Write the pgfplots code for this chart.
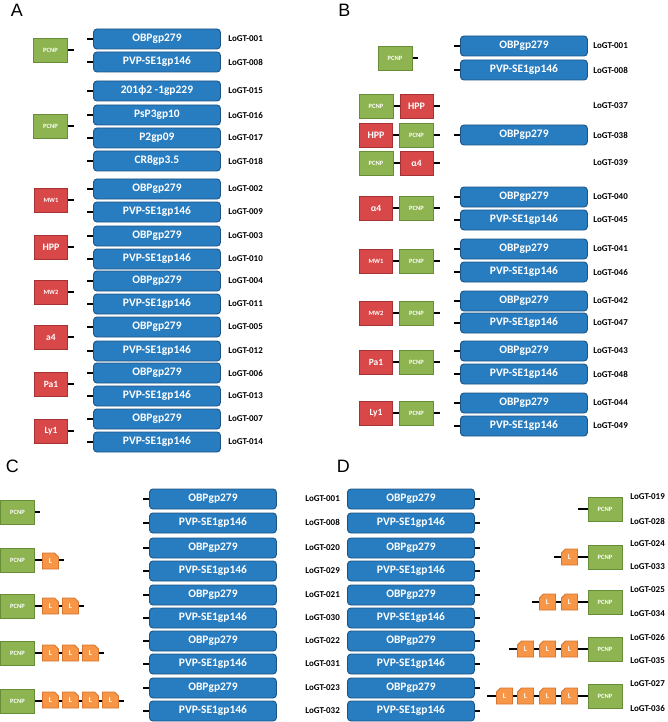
\documentclass[border=0pt]{standalone}
\usepackage{pgfplots}
\pgfplotsset{compat=1.18}
\usetikzlibrary{shapes.misc}
\usepackage{fontspec}
\setmainfont{Carlito}
\newfontfamily\panelfont{Liberation Sans}

\definecolor{boxblue}{RGB}{40,125,192}
\definecolor{boxblueedge}{RGB}{28,84,134}
\definecolor{pcnpgreen}{RGB}{141,180,80}
\definecolor{pcnpedge}{RGB}{104,140,55}
\definecolor{tagred}{RGB}{216,72,72}
\definecolor{tagrededge}{RGB}{165,50,50}
\definecolor{lorange}{RGB}{246,150,70}
\definecolor{lorangeedge}{RGB}{214,118,48}

\pgfplotsset{
  labelled/.style={only marks, mark=text, text mark={},
    point meta=explicit symbolic, nodes near coords,
    every node near coord/.append style={anchor=center, inner sep=0pt, outer sep=0pt, #1}},
  bluebox/.style={labelled={rectangle, rounded corners=3.5bp, fill=boxblue, draw=boxblueedge,
    line width=0.9bp, minimum width=127bp, minimum height=20bp, text=white,
    text height=8bp, text depth=2.5bp, font=\bfseries\fontsize{11.5}{12}\selectfont}},
  greenbox/.style={labelled={rectangle, fill=pcnpgreen, draw=pcnpedge, line width=0.9bp,
    minimum width=34bp, minimum height=24bp, text=white, font=\bfseries\fontsize{6.5}{7}\selectfont}},
  redbox/.style={labelled={rectangle, fill=tagred, draw=tagrededge, line width=0.9bp,
    minimum width=33bp, minimum height=24bp, text=white, font=\bfseries\fontsize{#1}{10}\selectfont}},
  ltag/.style={labelled={chamfered rectangle, chamfered rectangle corners=#1,
    chamfered rectangle xsep=4bp, chamfered rectangle ysep=4bp,
    fill=lorange, draw=lorangeedge, line width=0.8bp,
    minimum width=16bp, minimum height=16bp, text=white, font=\bfseries\fontsize{7.5}{8}\selectfont}},
  idlabel/.style={labelled={anchor=west, text=black, font=\bfseries\fontsize{9}{10}\selectfont}},
}

\begin{document}
\begin{tikzpicture}
\begin{axis}[
  scale only axis, width=667bp, height=722bp,
  xmin=0, xmax=667, ymin=0, ymax=722, y dir=reverse,
  hide axis, clip=false,
]
\addplot[draw=none] coordinates {(0,0) (667,722)};

% connectors
\addplot[black, line width=2bp, unbounded coords=jump] coordinates {
(87,39) (95,39) (nan,nan) (87,62) (95,62) (nan,nan)
(87,91) (95,91) (nan,nan) (87,115) (95,115) (nan,nan)
(87,138) (95,138) (nan,nan) (87,161) (95,161) (nan,nan)
(87,189) (95,189) (nan,nan) (87,212) (95,212) (nan,nan)
(87,236) (95,236) (nan,nan) (87,259) (95,259) (nan,nan)
(87,281) (95,281) (nan,nan) (87,304) (95,304) (nan,nan)
(87,327) (95,327) (nan,nan) (87,351) (95,351) (nan,nan)
(87,373) (95,373) (nan,nan) (87,396) (95,396) (nan,nan)
(87,419) (95,419) (nan,nan) (87,442) (95,442) (nan,nan)
(60,50) (74,50) (nan,nan) (60,126) (74,126) (nan,nan)
(60,200) (74,200) (nan,nan) (60,247) (74,247) (nan,nan)
(60,292) (74,292) (nan,nan) (60,337) (74,337) (nan,nan)
(60,384) (74,384) (nan,nan) (60,431) (74,431) (nan,nan)
(454,46) (462,46) (nan,nan) (454,70) (462,70) (nan,nan)
(454,135) (462,135) (nan,nan) (454,197) (462,197) (nan,nan)
(454,220) (462,220) (nan,nan) (454,249) (462,249) (nan,nan)
(454,272) (462,272) (nan,nan) (454,301) (462,301) (nan,nan)
(454,323) (462,323) (nan,nan) (454,351) (462,351) (nan,nan)
(454,374) (462,374) (nan,nan) (454,403) (462,403) (nan,nan)
(454,426) (462,426) (nan,nan)
(405,58) (418,58) (nan,nan)
(385,106) (440,106) (nan,nan) (385,135) (440,135) (nan,nan)
(385,163) (440,163) (nan,nan) (385,208) (440,208) (nan,nan)
(385,261) (440,261) (nan,nan) (385,313) (440,313) (nan,nan)
(385,362) (440,362) (nan,nan) (385,413) (440,413) (nan,nan)
(143,499) (151,499) (nan,nan) (143,523) (151,523) (nan,nan)
(143,548) (151,548) (nan,nan) (143,571) (151,571) (nan,nan)
(143,595) (151,595) (nan,nan) (143,618) (151,618) (nan,nan)
(143,641) (151,641) (nan,nan) (143,664) (151,664) (nan,nan)
(143,688) (151,688) (nan,nan) (143,711) (151,711) (nan,nan)
(25,512) (40,512) (nan,nan) (25,560) (64,560) (nan,nan)
(25,606) (84,606) (nan,nan) (25,653) (104,653) (nan,nan)
(25,701) (124,701) (nan,nan)
(468,499) (480,499) (nan,nan) (468,523) (480,523) (nan,nan)
(468,548) (480,548) (nan,nan) (468,571) (480,571) (nan,nan)
(468,595) (480,595) (nan,nan) (468,618) (480,618) (nan,nan)
(468,641) (480,641) (nan,nan) (468,664) (480,664) (nan,nan)
(468,688) (480,688) (nan,nan) (468,711) (480,711) (nan,nan)
(578,509) (595,509) (nan,nan) (554,557) (595,557) (nan,nan)
(532,602) (595,602) (nan,nan) (509,649) (595,649) (nan,nan)
(487,696) (595,696)
};

% blue protein boxes
\addplot[bluebox] coordinates {
(156.5,39) [OBPgp279] (156.5,62) [PVP-SE1gp146]
(156.5,91) [201ϕ2 -1gp229] (156.5,115) [PsP3gp10]
(156.5,138) [P2gp09] (156.5,161) [CR8gp3.5]
(156.5,189) [OBPgp279] (156.5,212) [PVP-SE1gp146]
(156.5,236) [OBPgp279] (156.5,259) [PVP-SE1gp146]
(156.5,281) [OBPgp279] (156.5,304) [PVP-SE1gp146]
(156.5,327) [OBPgp279] (156.5,351) [PVP-SE1gp146]
(156.5,373) [OBPgp279] (156.5,396) [PVP-SE1gp146]
(156.5,419) [OBPgp279] (156.5,442) [PVP-SE1gp146]
(523.5,46) [OBPgp279] (523.5,70) [PVP-SE1gp146]
(523.5,135) [OBPgp279]
(523.5,197) [OBPgp279] (523.5,220) [PVP-SE1gp146]
(523.5,249) [OBPgp279] (523.5,272) [PVP-SE1gp146]
(523.5,301) [OBPgp279] (523.5,323) [PVP-SE1gp146]
(523.5,351) [OBPgp279] (523.5,374) [PVP-SE1gp146]
(523.5,403) [OBPgp279] (523.5,426) [PVP-SE1gp146]
(212.5,499) [OBPgp279] (212.5,523) [PVP-SE1gp146]
(212.5,548) [OBPgp279] (212.5,571) [PVP-SE1gp146]
(212.5,595) [OBPgp279] (212.5,618) [PVP-SE1gp146]
(212.5,641) [OBPgp279] (212.5,664) [PVP-SE1gp146]
(212.5,688) [OBPgp279] (212.5,711) [PVP-SE1gp146]
(410.5,499) [OBPgp279] (410.5,523) [PVP-SE1gp146]
(410.5,548) [OBPgp279] (410.5,571) [PVP-SE1gp146]
(410.5,595) [OBPgp279] (410.5,618) [PVP-SE1gp146]
(410.5,641) [OBPgp279] (410.5,664) [PVP-SE1gp146]
(410.5,688) [OBPgp279] (410.5,711) [PVP-SE1gp146]
};

% PCNP
\addplot[greenbox] coordinates {
(50,50) [PCNP] (50,126) [PCNP]
(394.5,58) [PCNP] (375.5,106) [PCNP] (416,135) [PCNP] (375.5,163) [PCNP]
(416,208) [PCNP] (416,261) [PCNP] (416,313) [PCNP] (416,362) [PCNP] (416,413) [PCNP]
(17,512) [PCNP] (17,560) [PCNP] (17,606) [PCNP] (17,653) [PCNP] (17,701) [PCNP]
(604.5,509) [PCNP] (604.5,557) [PCNP] (604.5,602) [PCNP] (604.5,649) [PCNP] (604.5,696) [PCNP]
};

% red domains
\addplot[redbox=10] coordinates {
(50.5,247) [HPP] (416,106) [HPP] (375.5,135) [HPP]
};
\addplot[redbox=9.5] coordinates {
(50.5,337) [a4] (50.5,384) [Pa1] (50.5,431) [Ly1]
(416,163) [α4] (375.5,208) [α4] (375.5,362) [Pa1] (375.5,413) [Ly1]
};
\addplot[redbox=6.5] coordinates {
(50.5,200) [MW1] (50.5,292) [MW2] (375.5,261) [MW1] (375.5,313) [MW2]
};

% linkers
\addplot[ltag=north east] coordinates {
(50,561) [L]
(50,606) [L] (70,606) [L]
(50,653) [L] (70,653) [L] (90,653) [L]
(50,700) [L] (70,700) [L] (90,700) [L] (110,700) [L]
};
\addplot[ltag=north west] coordinates {
(569,557) [L]
(569,602) [L] (547,602) [L]
(569,649) [L] (547,649) [L] (525,649) [L]
(569,696) [L] (547,696) [L] (525,696) [L] (504,696) [L]
};

% construct names
\addplot[idlabel] coordinates {
(228,39) [LoGT-001] (228,62) [LoGT-008] (228,91) [LoGT-015] (228,115) [LoGT-016]
(228,138) [LoGT-017] (228,161) [LoGT-018] (228,189) [LoGT-002] (228,212) [LoGT-009]
(228,236) [LoGT-003] (228,259) [LoGT-010] (228,281) [LoGT-004] (228,304) [LoGT-011]
(228,327) [LoGT-005] (228,351) [LoGT-012] (228,373) [LoGT-006] (228,396) [LoGT-013]
(228,419) [LoGT-007] (228,442) [LoGT-014]
(593,46) [LoGT-001] (593,70) [LoGT-008] (593,106) [LoGT-037] (593,135) [LoGT-038]
(593,163) [LoGT-039] (593,197) [LoGT-040] (593,220) [LoGT-045] (593,249) [LoGT-041]
(593,272) [LoGT-046] (593,301) [LoGT-042] (593,323) [LoGT-047] (593,351) [LoGT-043]
(593,374) [LoGT-048] (593,403) [LoGT-044] (593,426) [LoGT-049]
(305,499) [LoGT-001] (305,522) [LoGT-008] (305,548) [LoGT-020] (305,571) [LoGT-029]
(305,595) [LoGT-021] (305,618) [LoGT-030] (305,641) [LoGT-022] (305,664) [LoGT-031]
(305,688) [LoGT-023] (305,711) [LoGT-032]
(630,497) [LoGT-019] (630,521) [LoGT-028] (630,544) [LoGT-024] (630,567) [LoGT-033]
(630,590) [LoGT-025] (630,614) [LoGT-034] (630,637) [LoGT-026] (630,661) [LoGT-035]
(630,684) [LoGT-027] (630,708) [LoGT-036]
};

% panel letters
\addplot[labelled={text=black, font=\panelfont\fontsize{18}{18}\selectfont}] coordinates {
(16.5,10.5) [A] (344,10.5) [B] (12,466) [C] (343,466) [D]
};
\end{axis}
\end{tikzpicture}
\end{document}
